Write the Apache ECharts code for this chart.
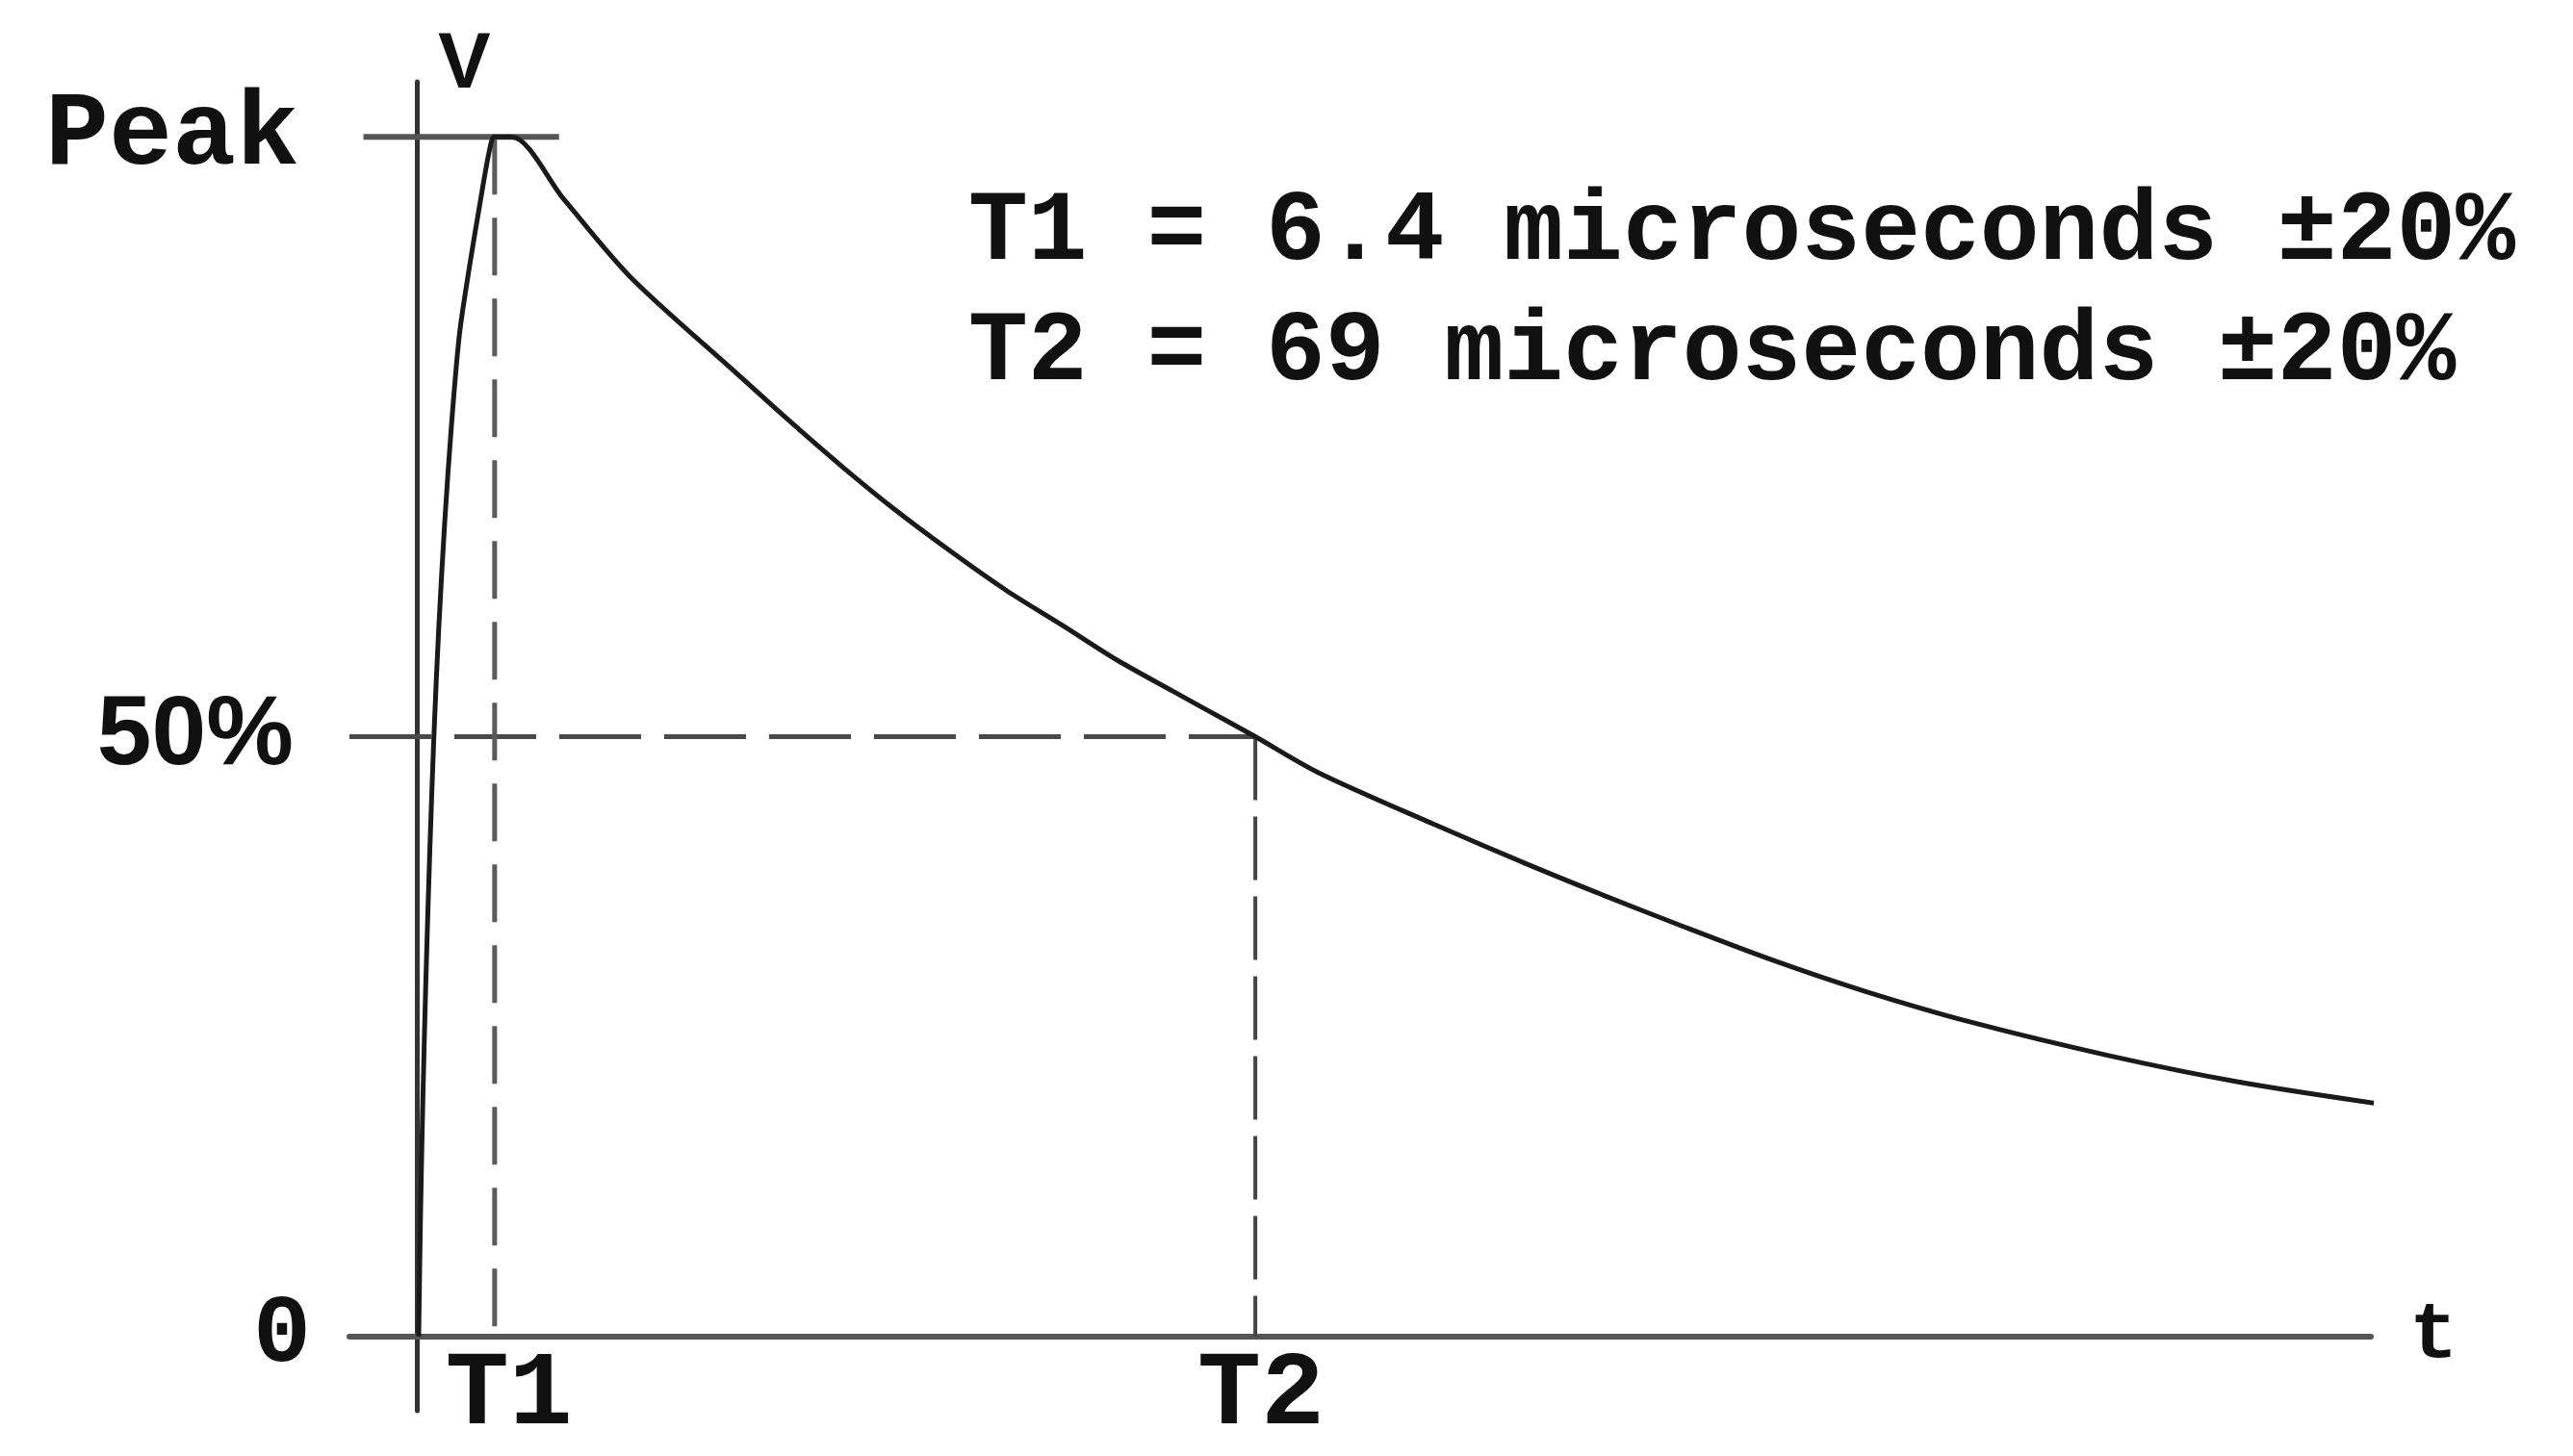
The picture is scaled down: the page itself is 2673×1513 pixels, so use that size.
<!DOCTYPE html>
<html>
<head>
<meta charset="utf-8">
<script src="https://cdn.jsdelivr.net/npm/echarts@6/dist/echarts.min.js"></script>
<style>
html,body{margin:0;padding:0;background:#ffffff;}
#chart{width:2673px;height:1513px;}
</style>
</head>
<body>
<div id="chart"></div>
<script>
// ---- Data (time in microseconds, voltage as fraction of peak) ----
const riseTime = [0.15, 0.3, 0.5, 0.75, 1.05, 1.4, 1.8, 2.3, 2.85, 3.5, 4.3, 5.2, 6.0, 6.4];
const riseVolt = [0, 0.10, 0.20, 0.30, 0.40, 0.50, 0.59, 0.68, 0.76, 0.835, 0.89, 0.945, 0.99, 1.0];
const decayTime = [7.8, 12.1, 17.6, 26.2, 30.8, 34.9, 39.0, 44.0, 48.5, 53.1, 57.6, 62.2, 64.7, 69.0, 74.2, 83.7, 91.3, 97.6, 103.9, 111.5, 119.1, 127.9, 139.3, 150.0, 161.4];
const decayVolt = [1.0, 0.948, 0.883, 0.804, 0.762, 0.726, 0.692, 0.654, 0.622, 0.593, 0.564, 0.538, 0.524, 0.5, 0.470, 0.427, 0.394, 0.368, 0.343, 0.314, 0.288, 0.262, 0.234, 0.212, 0.194];

const T1 = 6.4;
const T2 = 69;
const halfLevel = 0.5;
const peakLevel = 1.0;
const peakLineSpan = [-4.4, 11.7];
const axisRangeT = [-5.55, 160.8];
const axisRangeV = [-0.062, 1.046];

const yTickValues = [0, 0.5, 1];
const yTickLabels = ['0', '50%', 'Peak'];
const xTickValues = [T1, T2];
const xTickLabels = ['T1', 'T2'];
const notes = ['T1 = 6.4 microseconds \u00b120%', 'T2 = 69 microseconds \u00b120%'];
const axisNameV = 'V';
const axisNameT = 't';

// ---- Build series data ----
const pulse = riseTime.map((t, i) => [t, riseVolt[i]])
  .concat(decayTime.map((t, i) => [t, decayVolt[i]]));

const MONO = '"Liberation Mono", "DejaVu Sans Mono", monospace';
const SANS = '"Liberation Sans", Arial, sans-serif';

const chart = echarts.init(document.getElementById('chart'), null, {renderer: 'canvas'});

const option = {
  backgroundColor: '#ffffff',
  animation: false,
  grid: {
    left: 363, right: 210, top: 85, bottom: 47,
    containLabel: false,
    outerBoundsMode: 'none'
  },
  xAxis: {
    type: 'value',
    min: axisRangeT[0], max: axisRangeT[1],
    axisLine: {show: true, onZero: true, lineStyle: {color: '#555555', width: 6}},
    axisTick: {show: false},
    splitLine: {show: false},
    name: axisNameT,
    nameLocation: 'end',
    nameGap: 40,
    nameTextStyle: {fontFamily: MONO, fontWeight: 'bold', fontSize: 84, color: '#111111', verticalAlign: 'middle'},
    axisLabel: {
      show: true,
      customValues: xTickValues,
      margin: -70,
      formatter: function (v) {
        const i = xTickValues.indexOf(v);
        return i === 0 ? '{t1|' + xTickLabels[0] + '}' : '{t2|' + xTickLabels[1] + '}';
      },
      rich: {
        t1: {fontFamily: MONO, fontWeight: 'bold', fontSize: 110, color: '#111111', padding: [0, 0, 0, 30]},
        t2: {fontFamily: MONO, fontWeight: 'bold', fontSize: 110, color: '#111111', padding: [0, 0, 0, 12]}
      }
    }
  },
  yAxis: {
    type: 'value',
    min: axisRangeV[0], max: axisRangeV[1],
    axisLine: {show: true, onZero: true, lineStyle: {color: '#333333', width: 5}},
    axisTick: {show: false},
    splitLine: {show: false},
    name: axisNameV,
    nameLocation: 'end',
    nameGap: 17,
    nameTextStyle: {fontFamily: SANS, fontWeight: 'bold', fontSize: 82, color: '#111111', align: 'left', verticalAlign: 'middle', padding: [0, 0, 0, 22]},
    axisLabel: {
      show: true,
      customValues: yTickValues,
      margin: 40,
      formatter: function (v) {
        const i = yTickValues.indexOf(v);
        if (i === 2) return '{peak|' + yTickLabels[2] + '}';
        if (i === 1) return '{half|' + yTickLabels[1] + '}';
        return '{zero|' + yTickLabels[0] + '}';
      },
      rich: {
        peak: {fontFamily: MONO, fontWeight: 'bold', fontSize: 110, color: '#111111', padding: [0, 12, 0, 0]},
        half: {fontFamily: SANS, fontWeight: 'bold', fontSize: 102, color: '#111111', padding: [0, 18, 0, 0]},
        zero: {fontFamily: MONO, fontWeight: 'bold', fontSize: 100, color: '#111111'}
      }
    }
  },
  graphic: notes.map((txt, i) => ({
    type: 'text',
    left: 1006,
    top: 192 + i * 125,
    style: {text: txt, font: 'bold 103px ' + MONO, fill: '#111111'}
  })),
  series: [
    {
      name: 'Peak level',
      type: 'line',
      data: [[peakLineSpan[0], peakLevel], [peakLineSpan[1], peakLevel]],
      symbol: 'none',
      clip: false,
      lineStyle: {color: '#555555', width: 6, type: 'solid'}
    },
    {
      name: '50% level',
      type: 'line',
      data: [[axisRangeT[0], halfLevel], [T2, halfLevel]],
      symbol: 'none',
      clip: false,
      lineStyle: {color: '#4a4a4a', width: 5, type: [85, 24]}
    },
    {
      name: 'T1 marker',
      type: 'line',
      data: [[T1, peakLevel], [T1, 0]],
      symbol: 'none',
      clip: false,
      lineStyle: {color: '#5a5a5a', width: 5, type: [60, 24]}
    },
    {
      name: 'T2 marker',
      type: 'line',
      data: [[T2, halfLevel], [T2, 0]],
      symbol: 'none',
      clip: false,
      lineStyle: {color: '#444444', width: 4, type: [66, 17]}
    },
    {
      name: 'Impulse',
      type: 'line',
      data: pulse,
      symbol: 'none',
      smooth: 0.3,
      clip: false,
      lineStyle: {color: '#1a1a1a', width: 5}
    }
  ]
};
chart.setOption(option);
</script>
</body>
</html>
